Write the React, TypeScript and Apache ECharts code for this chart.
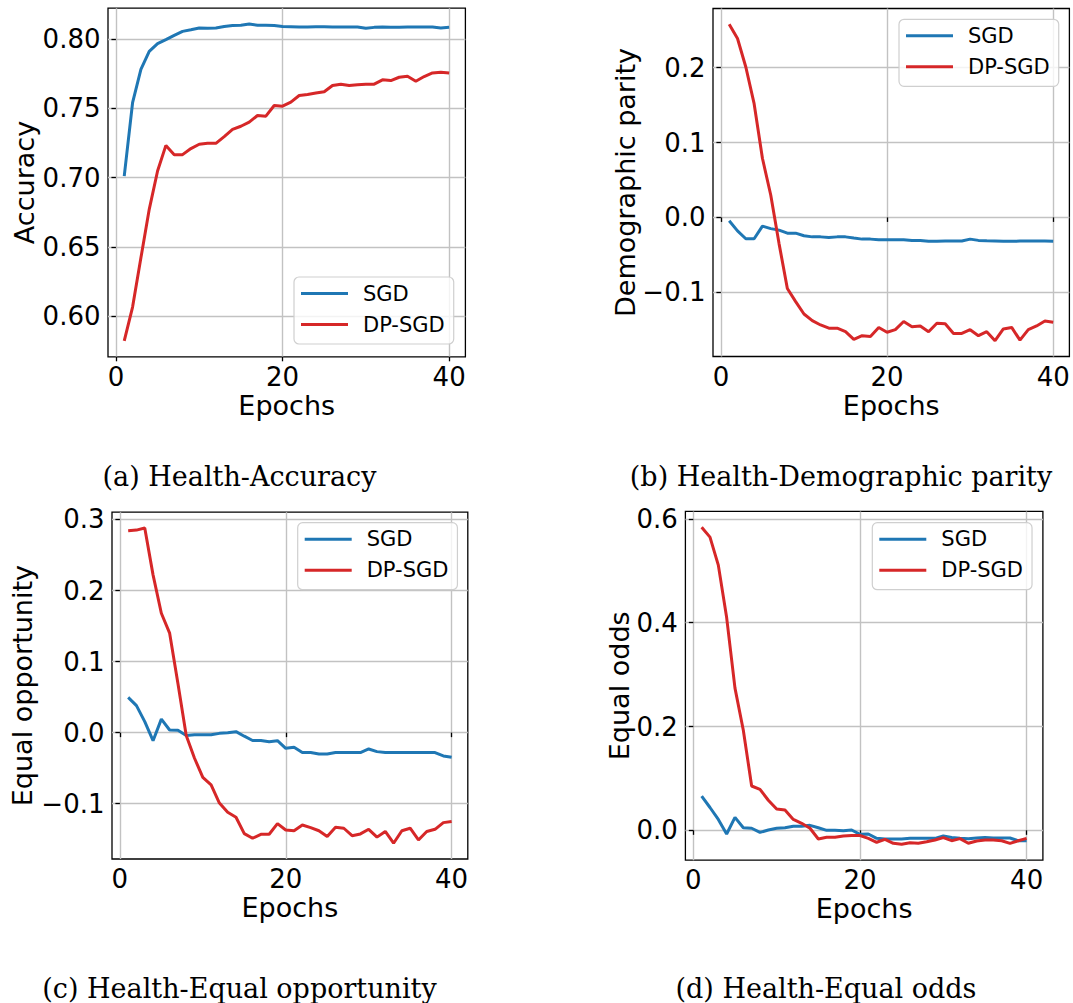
import React, { useEffect, useRef } from "react";
import * as echarts from "echarts";

// Training epochs (x values shared by every panel)
const epochs = [
  1, 2, 3, 4, 5, 6, 7, 8, 9, 10, 11, 12, 13, 14, 15, 16, 17, 18, 19, 20,
  21, 22, 23, 24, 25, 26, 27, 28, 29, 30, 31, 32, 33, 34, 35, 36, 37, 38, 39, 40,
];
const xTicks = [0, 20, 40];

// (a) Accuracy
const accuracySgd = [
  0.701, 0.754, 0.778, 0.791, 0.7966, 0.7995, 0.8026, 0.8055, 0.8067, 0.808,
  0.8077, 0.808, 0.809, 0.8098, 0.81, 0.8108, 0.81, 0.81, 0.8098, 0.809,
  0.8089, 0.8086, 0.8086, 0.8089, 0.8089, 0.8086, 0.8086, 0.8086, 0.8086, 0.8077,
  0.8084, 0.8086, 0.8084, 0.8084, 0.8086, 0.8086, 0.8086, 0.8086, 0.808, 0.8084,
];
const accuracyDpSgd = [
  0.582, 0.6065, 0.642, 0.677, 0.7047, 0.7232, 0.7165, 0.7165, 0.7209, 0.724,
  0.7247, 0.7247, 0.7295, 0.7347, 0.737, 0.74, 0.7448, 0.7443, 0.752, 0.7515,
  0.7544, 0.7592, 0.76, 0.761, 0.7619, 0.7664, 0.7674, 0.7664, 0.767, 0.7674,
  0.7674, 0.7705, 0.77, 0.7724, 0.7731, 0.7695, 0.7729, 0.7755, 0.776, 0.7755,
];
const accuracyTicks = [0.6, 0.65, 0.7, 0.75, 0.8];

// (b) Demographic parity
const paritySgd = [
  -0.0045, -0.018, -0.0285, -0.0285, -0.0116, -0.015, -0.017, -0.021, -0.021, -0.0245,
  -0.026, -0.026, -0.0267, -0.026, -0.026, -0.0276, -0.029, -0.029, -0.03, -0.0298,
  -0.03, -0.03, -0.0307, -0.0307, -0.032, -0.032, -0.0316, -0.0316, -0.0316, -0.029,
  -0.0307, -0.0312, -0.0316, -0.032, -0.032, -0.0316, -0.0316, -0.0316, -0.0316, -0.032,
];
const parityDpSgd = [
  0.258, 0.239, 0.201, 0.152, 0.079, 0.03, -0.035, -0.095, -0.1125, -0.129,
  -0.138, -0.1437, -0.148, -0.148, -0.1527, -0.163, -0.158, -0.159, -0.147, -0.1535,
  -0.15, -0.139, -0.146, -0.145, -0.1527, -0.1415, -0.142, -0.155, -0.155, -0.15,
  -0.158, -0.1527, -0.1647, -0.149, -0.147, -0.164, -0.15, -0.145, -0.1385, -0.14,
];
const parityTicks = [-0.1, 0.0, 0.1, 0.2];

// (c) Equal opportunity
const opportunitySgd = [
  0.0497, 0.038, 0.0155, -0.0113, 0.019, 0.0037, 0.0033, -0.004, -0.003, -0.003,
  -0.003, -0.001, 0.0, 0.0014, -0.005, -0.011, -0.011, -0.0127, -0.0113, -0.022,
  -0.0206, -0.028, -0.028, -0.03, -0.03, -0.028, -0.028, -0.028, -0.028, -0.023,
  -0.0267, -0.028, -0.028, -0.028, -0.028, -0.028, -0.028, -0.028, -0.0328, -0.0347,
];
const opportunityDpSgd = [
  0.284, 0.285, 0.288, 0.222, 0.168, 0.14, 0.069, -0.004, -0.036, -0.063,
  -0.0736, -0.099, -0.112, -0.119, -0.142, -0.1486, -0.143, -0.143, -0.128, -0.137,
  -0.138, -0.13, -0.1336, -0.138, -0.146, -0.133, -0.1345, -0.145, -0.1425, -0.136,
  -0.147, -0.139, -0.1556, -0.138, -0.1345, -0.151, -0.139, -0.136, -0.1266, -0.125,
];
const opportunityTicks = [-0.1, 0.0, 0.1, 0.2, 0.3];

// (d) Equal odds
const oddsSgd = [
  0.066, 0.044, 0.021, -0.007, 0.025, 0.005, 0.004, -0.004, 0.0006, 0.004,
  0.005, 0.008, 0.008, 0.0096, 0.005, 0.0, 0.0, -0.0006, 0.0006, -0.0077,
  -0.007, -0.0154, -0.0167, -0.0167, -0.0167, -0.0154, -0.0154, -0.0154, -0.0154, -0.011,
  -0.014, -0.0154, -0.016, -0.0148, -0.014, -0.0148, -0.0148, -0.0148, -0.02, -0.02,
];
const oddsDpSgd = [
  0.584, 0.565, 0.511, 0.41, 0.274, 0.193, 0.0854, 0.079, 0.058, 0.041,
  0.039, 0.021, 0.0135, 0.004, -0.0167, -0.0135, -0.0135, -0.011, -0.01, -0.01,
  -0.0154, -0.023, -0.0173, -0.025, -0.027, -0.024, -0.025, -0.022, -0.0186, -0.014,
  -0.02, -0.016, -0.025, -0.0206, -0.0186, -0.0186, -0.02, -0.025, -0.02, -0.0154,
];
const oddsTicks = [0.0, 0.2, 0.4, 0.6];

const seriesNames = ["SGD", "DP-SGD"];
const seriesColors = ["#1f77b4", "#d62728"];

const SANS = "DejaVu Sans";
const SERIF = "DejaVu Serif";

// Autoscale with a 5% margin on both ends of the data range
function paddedRange(values: number[]): [number, number] {
  const lo = Math.min(...values);
  const hi = Math.max(...values);
  const m = (hi - lo) * 0.05;
  return [lo - m, hi + m];
}

function tickFormatter(decimals: number) {
  return (v: number) => {
    const s = Math.abs(v).toFixed(decimals);
    return v < -1e-9 ? "\u2212" + s : s;
  };
}

const panels = [
  {
    sgd: accuracySgd,
    dp: accuracyDpSgd,
    ticks: accuracyTicks,
    decimals: 2,
    yName: "Accuracy",
    caption: "(a) Health-Accuracy",
    grid: { left: 108, top: 8.2, width: 357.4, height: 348.6 },
    legend: { left: 294, top: 277 },
    yNameX: 24,
    captionX: 239.5,
    captionY: 476,
  },
  {
    sgd: paritySgd,
    dp: parityDpSgd,
    ticks: parityTicks,
    decimals: 1,
    yName: "Demographic parity",
    caption: "(b) Health-Demographic parity",
    grid: { left: 713, top: 8.5, width: 356.4, height: 348 },
    legend: { left: 899, top: 19.3 },
    yNameX: 625,
    captionX: 841,
    captionY: 476,
  },
  {
    sgd: opportunitySgd,
    dp: opportunityDpSgd,
    ticks: opportunityTicks,
    decimals: 1,
    yName: "Equal opportunity",
    caption: "(c) Health-Equal opportunity",
    grid: { left: 112, top: 512.2, width: 355.8, height: 346.8 },
    legend: { left: 297.7, top: 522.7 },
    yNameX: 22,
    captionX: 239.5,
    captionY: 988,
  },
  {
    sgd: oddsSgd,
    dp: oddsDpSgd,
    ticks: oddsTicks,
    decimals: 1,
    yName: "Equal odds",
    caption: "(d) Health-Equal odds",
    grid: { left: 685.4, top: 511.4, width: 357.5, height: 348.8 },
    legend: { left: 872.3, top: 522.7 },
    yNameX: 619,
    captionX: 826,
    captionY: 988,
  },
];

function buildOption() {
  const [xMin, xMax] = paddedRange(epochs);
  const grid: any[] = [];
  const xAxis: any[] = [];
  const yAxis: any[] = [];
  const series: any[] = [];
  const legend: any[] = [];
  const graphic: any[] = [];

  panels.forEach((p, i) => {
    const [yMin, yMax] = paddedRange([...p.sgd, ...p.dp]);
    grid.push({
      ...p.grid,
      show: true,
      borderColor: "#000",
      borderWidth: 1.3,
      backgroundColor: "#fff",
      containLabel: false,
      outerBoundsMode: "none",
    });
    xAxis.push({
      type: "value",
      gridIndex: i,
      min: xMin,
      max: xMax,
      name: "Epochs",
      nameLocation: "middle",
      nameGap: 35,
      nameTextStyle: { fontFamily: SANS, fontSize: 27, color: "#000" },
      axisLine: { show: false },
      axisTick: {
        show: true,
        length: 4.5,
        customValues: xTicks,
        lineStyle: { color: "#000", width: 1.3 },
      },
      axisLabel: {
        customValues: xTicks,
        margin: 7,
        fontFamily: SANS,
        fontSize: 26,
        color: "#000",
        formatter: (v: number) => String(v),
      },
      splitLine: { show: true, lineStyle: { color: "#c2c2c2", width: 1.4 } },
    });
    yAxis.push({
      type: "value",
      gridIndex: i,
      min: yMin,
      max: yMax,
      axisLine: { show: false },
      axisTick: {
        show: true,
        length: 4.5,
        customValues: p.ticks,
        lineStyle: { color: "#000", width: 1.3 },
      },
      axisLabel: {
        customValues: p.ticks,
        margin: 7.5,
        fontFamily: SANS,
        fontSize: 26,
        color: "#000",
        formatter: tickFormatter(p.decimals),
      },
      splitLine: { show: true, lineStyle: { color: "#c2c2c2", width: 1.4 } },
    });
    [p.sgd, p.dp].forEach((vals, k) => {
      series.push({
        type: "line",
        name: seriesNames[k],
        xAxisIndex: i,
        yAxisIndex: i,
        data: epochs.map((e, j) => [e, vals[j]]),
        symbol: "none",
        showSymbol: false,
        lineStyle: { color: seriesColors[k], width: 3 },
        itemStyle: { color: seriesColors[k] },
        z: 2 + k,
      });
    });
    legend.push({
      data: seriesNames,
      orient: "vertical",
      left: p.legend.left,
      top: p.legend.top,
      icon: "rect",
      itemWidth: 47,
      itemHeight: 3,
      itemGap: 10,
      padding: [6, 9, 9, 7],
      backgroundColor: "rgba(255,255,255,0.8)",
      borderColor: "#cfcfcf",
      borderWidth: 1.2,
      borderRadius: 5,
      selectedMode: false,
      textStyle: {
        fontFamily: SANS,
        fontSize: 21,
        color: "#000",
        padding: [0, 0, 0, 10],
      },
    });
    const cy = p.grid.top + p.grid.height / 2;
    graphic.push({
      type: "text",
      x: p.yNameX,
      y: cy,
      rotation: Math.PI / 2,
      style: {
        text: p.yName,
        fontFamily: SANS,
        fontSize: 27,
        fill: "#000",
        align: "center",
        verticalAlign: "middle",
      },
    });
    graphic.push({
      type: "text",
      x: p.captionX,
      y: p.captionY,
      style: {
        text: p.caption,
        fontFamily: SERIF,
        fontSize: 27,
        fill: "#000",
        align: "center",
        verticalAlign: "middle",
      },
    });
  });

  return {
    animation: false,
    backgroundColor: "#fff",
    grid,
    xAxis,
    yAxis,
    series,
    legend,
    graphic,
  };
}

export default function App() {
  const ref = useRef<HTMLDivElement>(null);
  useEffect(() => {
    if (!ref.current) return;
    const chart = echarts.init(ref.current, undefined, { renderer: "svg" });
    chart.setOption(buildOption() as any);
    return () => chart.dispose();
  }, []);
  return (
    <div
      ref={ref}
      style={{
        position: "fixed",
        left: 0,
        top: 0,
        width: 1073,
        height: 1003,
        background: "#fff",
      }}
    />
  );
}
